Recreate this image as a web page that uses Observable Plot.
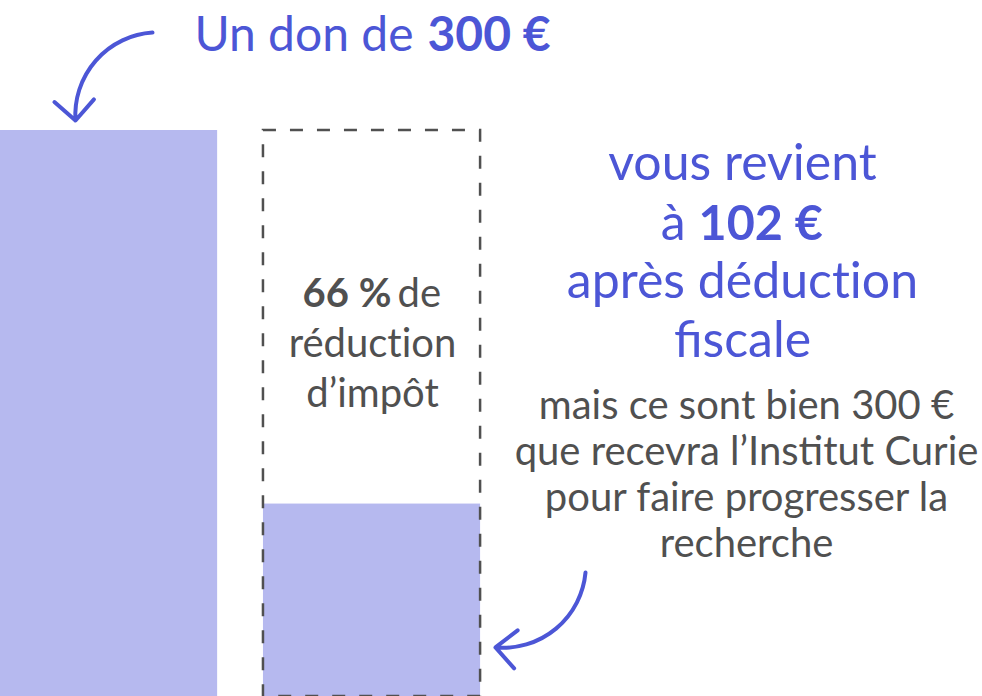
<!DOCTYPE html>
<html>
<head>
<meta charset="utf-8">
<script src="https://cdn.jsdelivr.net/npm/d3@7"></script>
<script src="https://cdn.jsdelivr.net/npm/@observablehq/plot@0.6"></script>
<style>
  html, body { margin: 0; padding: 0; background: #fff; }
  svg { display: block; }
</style>
</head>
<body>
<div id="chart"></div>
<script>
// ---- data ----
const categories = ["Don", "Coût après déduction"];
const amounts = [300, 102];          // € : donation / effective cost
const donation = 300;                // full donation (dashed outline)
const reductionRate = 66;            // %

// ---- styles / layout (not data) ----
const BLUE = "#4c56d6";
const BAR = "#b6b9ef";
const GRAY = "#505050";
const FONT = "Lato";
const ZWNJ = "\u200C";               // keeps "ti" from forming a ligature
const slot = 1.205, barW = 0.995;    // x-units

const bars = categories.map((c, i) => ({
  category: c, value: amounts[i], x1: i * slot, x2: i * slot + barW
}));
const outline = [{ x1: slot, x2: slot + barW, value: donation }];

// annotation anchor points, in data units (x-units, €)
const arrows1 = [{ x1: 0.6966, y1: 351.9, x2: 0.3437, y2: 305.3 }];
const arrows2 = [{ x1: 2.6808, y1: 65.7, x2: 2.2683, y2: 26.0 }];

const chart = Plot.plot({
  width: 982,
  height: 696,
  margin: 0,
  x: { domain: [0, 4.5], axis: null },
  y: { domain: [0, 300], range: [696, 130], axis: null },
  style: { fontFamily: FONT, background: "#fff", overflow: "visible" },
  marks: [
    Plot.rect(bars, { x1: "x1", x2: "x2", y1: 0, y2: "value", fill: BAR }),
    Plot.rect(outline, {
      x1: "x1", x2: "x2", y1: 0, y2: "value",
      fill: "none", stroke: GRAY, strokeWidth: 2.5, strokeDasharray: "13,14"
    }),
    // heading
    Plot.text(["Un don de"], { x: 1.9247, y: 342.4, text: d => d, textAnchor: "end", lineAnchor: "bottom", dx: -7, fontSize: 48, fill: BLUE }),
    Plot.text([`${donation} €`], { x: 1.9247, y: 342.4, text: d => d, textAnchor: "start", lineAnchor: "bottom", dx: 7, fontSize: 48, fontWeight: "bold", fill: BLUE }),
    // box text
    Plot.text([`${reductionRate} %`], { x: 1.8055, y: 206.2, text: d => d, textAnchor: "end", lineAnchor: "bottom", dx: -3, fontSize: 40, fontWeight: "bold", fill: GRAY }),
    Plot.text(["de"], { x: 1.8055, y: 206.2, text: d => d, textAnchor: "start", lineAnchor: "bottom", dx: 3, fontSize: 40, fill: GRAY }),
    Plot.text([`réduct${ZWNJ}ion\nd’impôt`], { x: 1.7047, y: 153.2, text: d => d, textAnchor: "middle", lineAnchor: "bottom", lineHeight: 1.25, fontSize: 40, fill: GRAY }),
    // right blue text
    Plot.text(["vous revient"], { x: 3.4002, y: 273.5, text: d => d, textAnchor: "middle", lineAnchor: "bottom", fontSize: 50, fill: BLUE }),
    Plot.text(["à"], { x: 3.1689, y: 241.7, text: d => d, textAnchor: "end", lineAnchor: "bottom", dx: -6.5, fontSize: 50, fill: BLUE }),
    Plot.text([`${amounts[1]} €`], { x: 3.1689, y: 241.7, text: d => d, textAnchor: "start", lineAnchor: "bottom", dx: 6.5, fontSize: 48.5, fontWeight: "bold", fill: BLUE }),
    Plot.text([`après déduct${ZWNJ}ion\nfiscale`], { x: 3.4002, y: 179.7, text: d => d, textAnchor: "middle", lineAnchor: "bottom", lineHeight: 1.18, fontSize: 50, fill: BLUE }),
    // right gray text
    Plot.text([`mais ce sont bien ${donation} €\nque recevra l’Institut Curie\npour faire progresser la\nrecherche`], {
      x: 3.4186, y: 73.7, text: d => d, textAnchor: "middle", lineAnchor: "bottom", lineHeight: 1.15, fontSize: 40, fill: GRAY
    }),
    // arrows
    Plot.arrow(arrows1, { x1: "x1", y1: "y1", x2: "x2", y2: "y2", bend: -45, headAngle: 90, headLength: 10.5, stroke: BLUE, strokeWidth: 4, strokeLinecap: "round", strokeLinejoin: "round" }),
    Plot.arrow(arrows2, { x1: "x1", y1: "y1", x2: "x2", y2: "y2", bend: 45, headAngle: 86, headLength: 10.5, stroke: BLUE, strokeWidth: 4, strokeLinecap: "round", strokeLinejoin: "round" })
  ]
});
document.getElementById("chart").appendChild(chart);
</script>
</body>
</html>
